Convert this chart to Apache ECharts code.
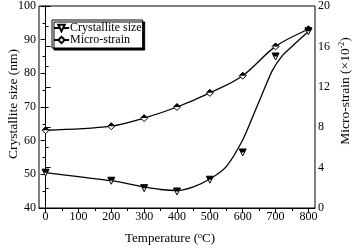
<!DOCTYPE html>
<html><head><meta charset="utf-8">
<script src="https://cdn.jsdelivr.net/npm/echarts@6/dist/echarts.min.js"></script>
<style>html,body{margin:0;padding:0;background:#fff}#c{width:353px;height:248px}</style>
</head><body><div id="c"></div>
<script>
// Measured points
const temps = [0, 200, 300, 400, 500, 600, 700, 800];
const crystalliteSize = [50.5, 48.1, 45.9, 44.9, 48.4, 56.5, 85.0, 92.5];
const microStrain = [7.7, 8.1, 8.9, 10.0, 11.4, 13.1, 16.0, 17.7];
// Fitted curve through crystallite size
const fitTemps = [0, 100, 200, 300, 350, 400, 450, 500, 550, 600, 630, 660, 690, 720, 750, 800];
const fitSize = [50.5, 49.3, 48.1, 46.3, 45.5, 45.2, 46.3, 48.6, 52.3, 60.2, 67.0, 74.0, 80.8, 85.2, 88.0, 92.4];
// Tick labels
const xMajor = [0, 100, 200, 300, 400, 500, 600, 700, 800];
const xMinor = [50, 150, 250, 350, 450, 550, 650, 750];

const pair = (xs, ys) => xs.map((x, i) => [x, ys[i]]);
const font = "'Liberation Serif', 'Times New Roman', serif";
const triDown = 'path://M0,0 L2,0 L1,2 Z';
const triTop = 'path://M0,0 L4,0 L3,2 L1,2 Z';
const diaTop = 'path://M0,1 L1,0 L2,1 Z';
const lbl = { fontFamily: font, fontSize: 12, color: '#000', margin: 3 };

const chart = echarts.init(document.getElementById('c'));
chart.setOption({
  animation: false,
  textStyle: { fontFamily: font, color: '#000' },
  grid: { left: 39, right: 38, top: 6, bottom: 40, outerBoundsMode: 'none', containLabel: false,
          show: true, borderColor: '#000', borderWidth: 1, backgroundColor: 'transparent' },
  legend: {
    left: 52, top: 20, orient: 'vertical', itemGap: 0, itemWidth: 15, itemHeight: 8,
    padding: [2, 1, 2, 1],
    backgroundColor: '#fff', borderColor: '#000', borderWidth: 1,
    shadowColor: '#000', shadowOffsetX: 2, shadowOffsetY: 2, shadowBlur: 0,
    textStyle: { fontFamily: font, fontSize: 12, color: '#000', padding: [0, 0, 0, -4] },
    data: ['Crystallite size', 'Micro-strain']
  },
  xAxis: [{
    type: 'value', min: -20, max: 820,
    name: '{n|Temperature (}{s|o}{n|C)}', nameLocation: 'middle', nameGap: 24,
    nameTextStyle: { padding: [0, 14, 0, 0], rich: { n: { fontFamily: font, fontSize: 13, color: '#000' }, s: { fontFamily: font, fontSize: 8, color: '#000', verticalAlign: 'top', padding: [0, 0, 6, 0] } } },
    axisLine: { lineStyle: { color: '#000' } },
    axisTick: { customValues: xMajor, length: 5, lineStyle: { color: '#000' } },
    axisLabel: Object.assign({ customValues: xMajor }, lbl),
    splitLine: { show: false }
  }, {
    type: 'value', min: -20, max: 820, position: 'bottom',
    axisLine: { show: false },
    axisTick: { customValues: xMinor, length: 3, lineStyle: { color: '#000' } },
    axisLabel: { show: false },
    splitLine: { show: false }
  }],
  yAxis: [{
    type: 'value', min: 40, max: 100, interval: 10,
    name: 'Crystallite size (nm)', nameLocation: 'middle', nameGap: 19, nameRotate: 90, nameMoveOverlap: false,
    nameTextStyle: { fontFamily: font, fontSize: 13.5, color: '#000', padding: [0, 0, 0, 6] },
    axisLine: { show: true, lineStyle: { color: '#000' } },
    axisTick: { length: 5, lineStyle: { color: '#000' } },
    minorTick: { show: true, splitNumber: 2, length: 3, lineStyle: { color: '#000' } },
    axisLabel: lbl,
    splitLine: { show: false }
  }, {
    type: 'value', min: 0, max: 20, interval: 4, position: 'right',
    name: '{n|Micro-strain (×10}{s|-2}{n|)}', nameLocation: 'middle', nameGap: 23, nameRotate: 90, nameMoveOverlap: false,
    nameTextStyle: { padding: [0, 0, 0, 32], rich: { n: { fontFamily: font, fontSize: 13.5, color: '#000' }, s: { fontFamily: font, fontSize: 8, color: '#000', verticalAlign: 'top', padding: [0, 0, 6, 0] } } },
    axisLine: { show: true, lineStyle: { color: '#000' } },
    axisTick: { length: 5, lineStyle: { color: '#000' } },
    minorTick: { show: true, splitNumber: 2, length: 3, lineStyle: { color: '#000' } },
    axisLabel: lbl,
    splitLine: { show: false }
  }],
  series: [
    {
      name: 'Crystallite size', type: 'line', smooth: 0.25, xAxisIndex: 0, yAxisIndex: 0,
      data: pair(fitTemps, fitSize), showSymbol: false, symbol: triDown, symbolSize: 7,
      lineStyle: { color: '#000', width: 1.3 }, itemStyle: { color: '#fff', borderColor: '#000', borderWidth: 1 }, z: 2
    },
    {
      name: 'Micro-strain', type: 'line', smooth: 0.35, xAxisIndex: 0, yAxisIndex: 1,
      data: pair(temps, microStrain), symbol: 'diamond', symbolSize: 7,
      lineStyle: { color: '#000', width: 1.3 }, itemStyle: { color: '#fff', borderColor: '#000', borderWidth: 1 }, z: 3
    },
    {
      name: 'sizePts', type: 'scatter', xAxisIndex: 0, yAxisIndex: 0,
      data: pair(temps, crystalliteSize), symbol: triDown, symbolSize: 7,
      itemStyle: { color: '#fff', borderColor: '#000', borderWidth: 1, opacity: 1 }, z: 4
    },
    {
      name: 'sizeFill', type: 'scatter', xAxisIndex: 0, yAxisIndex: 0,
      data: pair(temps, crystalliteSize), symbol: triTop, symbolSize: [7, 3.5], symbolOffset: [0, -1.75],
      itemStyle: { color: '#000', opacity: 1 }, z: 5, silent: true
    },
    {
      name: 'strainFill', type: 'scatter', xAxisIndex: 0, yAxisIndex: 1,
      data: pair(temps, microStrain), symbol: diaTop, symbolSize: [7, 3.5], symbolOffset: [0, -1.75],
      itemStyle: { color: '#000', opacity: 1 }, z: 5, silent: true
    }
  ]
});
</script></body></html>
